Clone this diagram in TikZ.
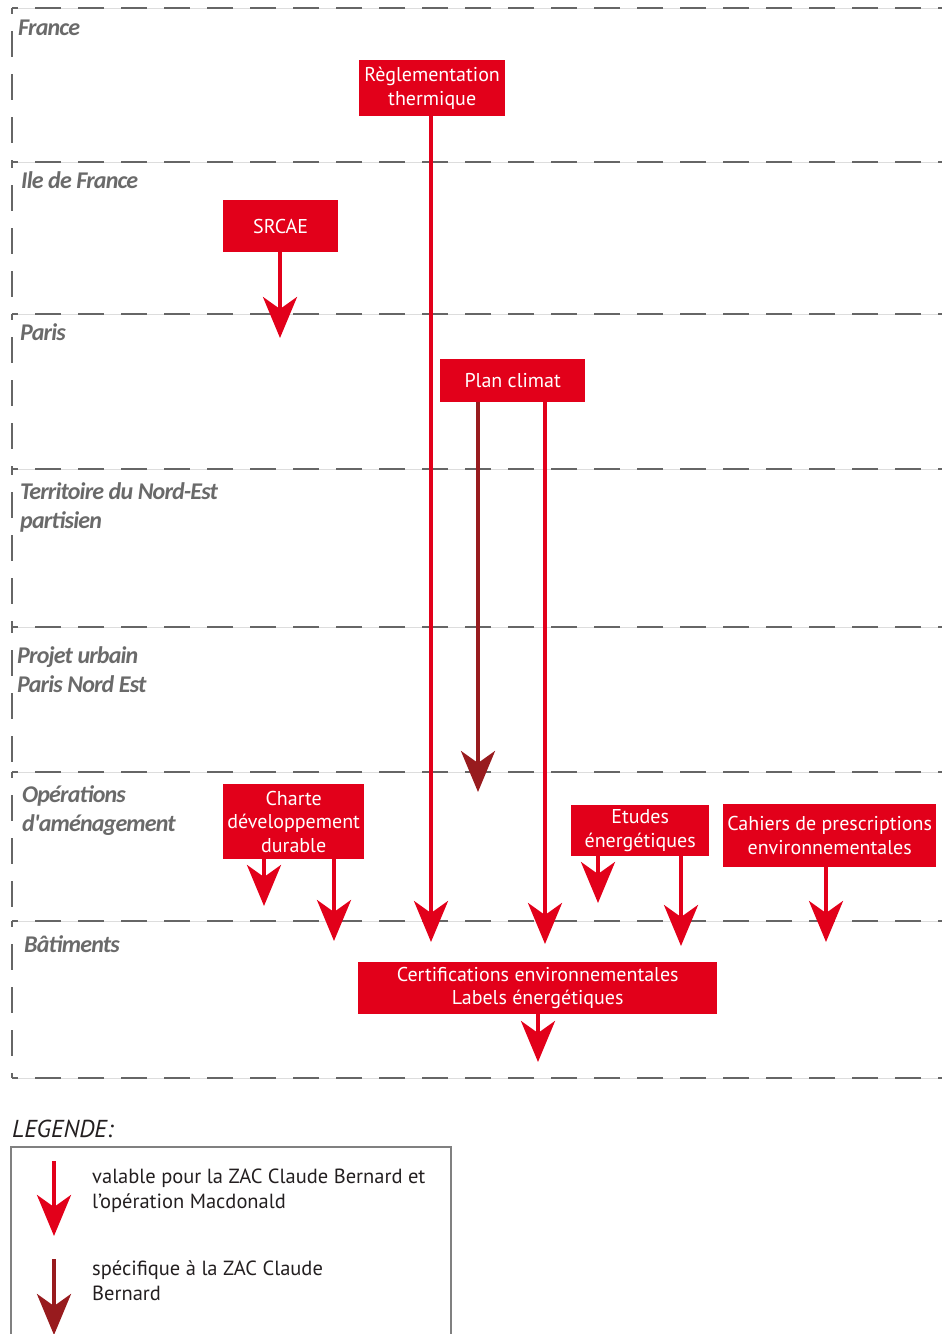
\documentclass[tikz,border=0pt]{standalone}
\usepackage{fontspec}
\setmainfont{PT Sans}
\newfontfamily\lanefont[LetterSpace=-3.5]{Carlito}
\usetikzlibrary{arrows.meta}
\definecolor{flowred}{HTML}{E2001A}
\definecolor{darkflow}{HTML}{981B1E}
\definecolor{dashgrey}{HTML}{666666}
\definecolor{railgrey}{HTML}{DDDDDD}
\definecolor{lanegrey}{HTML}{6A6A6A}
\definecolor{legendgrey}{HTML}{808080}
\definecolor{ink}{HTML}{231F20}

\tikzset{
  box/.style={fill=flowred, text=white, inner sep=0pt, anchor=north west, align=center,
    font=\fontsize{20}{23.5}\selectfont},
  lane/.style={anchor=base west, inner sep=0pt, text=lanegrey, align=left,
    font=\lanefont\bfseries\itshape\fontsize{24}{29}\selectfont},
  rail/.style={draw=railgrey, line width=0.8pt},
  lanedash/.style={draw=dashgrey, line width=2pt, dash pattern=on 26pt off 17pt, dash phase=20pt},
  flow/.style={draw=flowred, line width=4pt, -{Stealth[length=41pt, width=34pt, inset=12pt]}},
  darkflowarrow/.style={flow, draw=darkflow},
  legendtext/.style={anchor=base west, inner sep=0pt, align=left, text=ink,
    font=\fontsize{20.5}{25}\selectfont},
}

\begin{document}
\begin{tikzpicture}[x=1pt, y=-1pt]
\useasboundingbox (0,0) rectangle (942,1334);
\clip (0,0) rectangle (942,1334);

% lane separators: light rail under dark dashes
\foreach \yy in {8,162,314,469,627,772,921,1078} {
  \draw[rail] (12,\yy) -- (942,\yy);
  \draw[lanedash] (12,\yy) -- (942,\yy);
}
% left edge of each lane
\foreach \ya/\yb in {8/162,162/314,314/469,469/627,627/772,772/921,921/1078} {
  \draw[lanedash] (12,\ya) -- (12,\yb);
}

% lane titles (multi-line nodes sit on the baseline of their last line)
\node[lane] (lFrance) at (18,35) {France};
\node[lane] (lIdf) at (21,188) {Ile de France};
\node[lane] (lParis) at (20,340) {Paris};
\node[lane] (lTerr) at (20,528) {Territoire du Nord-Est\\partisien};
\node[lane] (lProj) at (17,692) {Projet urbain\\Paris Nord Est};
\node[lane] (lOps) at (22,831) {Opérations\\d'aménagement};
\node[lane] (lBat) at (24,952) {Bâtiments};

% instruments
\node[box, minimum width=146, minimum height=56] (regl) at (359,60) {Règlementation\\thermique};
\node[box, minimum width=115, minimum height=52] (srcae) at (223,200) {SRCAE};
\node[box, minimum width=145, minimum height=43] (plan) at (440,359) {Plan climat};
\node[box, minimum width=141, minimum height=75] (charte) at (223,784) {Charte\\développement\\durable};
\node[box, minimum width=138, minimum height=51] (etudes) at (571,805) {Etudes\\énergétiques};
\node[box, minimum width=213, minimum height=63] (cahiers) at (723,804) {Cahiers de prescriptions\\environnementales};
\node[box, minimum width=359, minimum height=52] (certif) at (358,962) {Certifications environnementales\\Labels énergétiques};

% arrow ends
\coordinate (tSrcae) at (280,338);
\coordinate (tRegl) at (431,942);
\coordinate (tPlanDark) at (478,792);
\coordinate (tPlan) at (545,944);
\coordinate (tCharteA) at (264,906);
\coordinate (tCharteB) at (334,941);
\coordinate (tEtudesA) at (598,903);
\coordinate (tEtudesB) at (681,946);
\coordinate (tCahiers) at (826,942);
\coordinate (tCertif) at (538,1062);

\draw[flow] (srcae.south -| tSrcae) -- (tSrcae);
\draw[flow] (regl.south -| tRegl) -- (tRegl);
\draw[darkflowarrow] (plan.south -| tPlanDark) -- (tPlanDark);
\draw[flow] (plan.south -| tPlan) -- (tPlan);
\draw[flow] (charte.south -| tCharteA) -- (tCharteA);
\draw[flow] (charte.south -| tCharteB) -- (tCharteB);
\draw[flow] (etudes.south -| tEtudesA) -- (tEtudesA);
\draw[flow] (etudes.south -| tEtudesB) -- (tEtudesB);
\draw[flow] (cahiers.south -| tCahiers) -- (tCahiers);
\draw[flow] (certif.south -| tCertif) -- (tCertif);

% legend
\node[anchor=base west, inner sep=0pt, text=ink, font=\itshape\fontsize{24.5}{28}\selectfont] (legTitle) at (12,1137) {LEGENDE:};
\draw[legendgrey, line width=2pt] (11,1360) |- (451,1147) -- (451,1360);
\coordinate (lgA1) at (54,1161);
\coordinate (lgA2) at (54,1236);
\coordinate (lgB1) at (54,1259);
\coordinate (lgB2) at (54,1335);
\draw[flow] (lgA1) -- (lgA2);
\draw[darkflowarrow] (lgB1) -- (lgB2);
\node[legendtext] (legA) at (92,1208) {valable pour la ZAC Claude Bernard et\\l'opération Macdonald};
\node[legendtext] (legB) at (92,1300) {spécifique à la ZAC Claude\\Bernard};
\end{tikzpicture}
\end{document}
